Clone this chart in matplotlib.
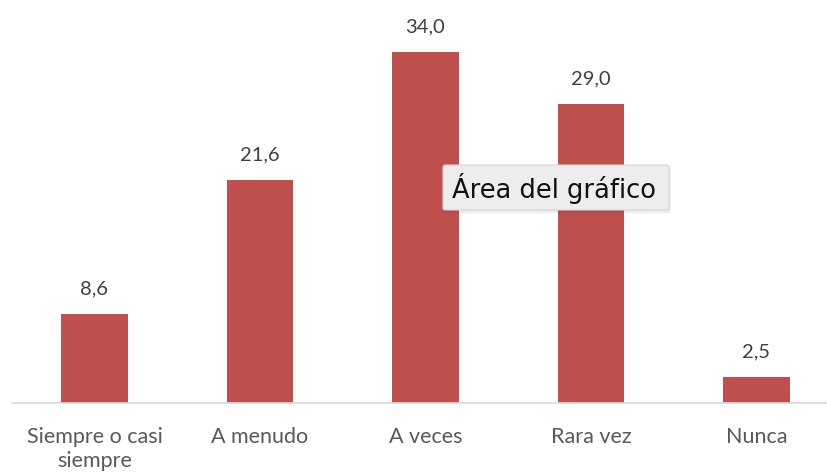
import matplotlib.pyplot as plt
from matplotlib.patches import FancyBboxPatch

# Frecuencia de respuesta (%)
categorias = ["Siempre o casi\nsiempre", "A menudo", "A veces", "Rara vez", "Nunca"]
valores = [8.6, 21.6, 34.0, 29.0, 2.5]

W, H = 828, 472
fig = plt.figure(figsize=(W / 100, H / 100), dpi=100)
fig.patch.set_facecolor("white")

# eje: base en y=403 px, separación de categorías ~165.5 px
left_px, base_px = 11.75, 403
step_px = 165.5
ax = fig.add_axes([left_px / W, (H - base_px) / H, (W - left_px) / W, base_px / H])
ax.set_xlim(-0.5, -0.5 + (W - left_px) / step_px)
ax.set_ylim(0, base_px / 10.32)

x = range(len(valores))
bars = ax.bar(x, valores, width=0.4, color="#C0504D", zorder=2)

for b, v in zip(bars, valores):
    ax.annotate(f"{v:.1f}".replace(".", ","),
                (b.get_x() + b.get_width() / 2, v),
                xytext=(0, 12), textcoords="offset points",
                ha="center", va="bottom", fontsize=14.5, color="#404040",
                family="Lato")

for s in ["top", "right", "left"]:
    ax.spines[s].set_visible(False)
ax.spines["bottom"].set_color("#d9d9d9")
ax.spines["bottom"].set_linewidth(1.2)
ax.set_yticks([])
ax.set_xticks(list(x))
ax.set_xticklabels(categorias, fontsize=15.5, color="#595959", family="Lato",
                   linespacing=1.3)
ax.tick_params(axis="x", length=0, pad=17)
ax.patch.set_alpha(0)

# recuadro flotante "Área del gráfico"
sombra = FancyBboxPatch((445 / W, (H - 213) / H), 226 / W, 45 / H,
                        boxstyle="round,pad=0,rounding_size=0.004",
                        transform=fig.transFigure, facecolor="#000000",
                        alpha=0.07, edgecolor="none", zorder=5)
caja = FancyBboxPatch((443 / W, (H - 210) / H), 226 / W, 45 / H,
                      boxstyle="round,pad=0,rounding_size=0.004",
                      transform=fig.transFigure, facecolor="#ededed",
                      edgecolor="#d4d4d4", linewidth=0.8, zorder=6)
fig.patches.extend([sombra, caja])
fig.text(452 / W, (H - 188) / H, "Área del gráfico", fontsize=18.5,
         color="#111111", va="center", ha="left", family="DejaVu Sans",
         zorder=7)

fig.savefig("out.png", dpi=100)
